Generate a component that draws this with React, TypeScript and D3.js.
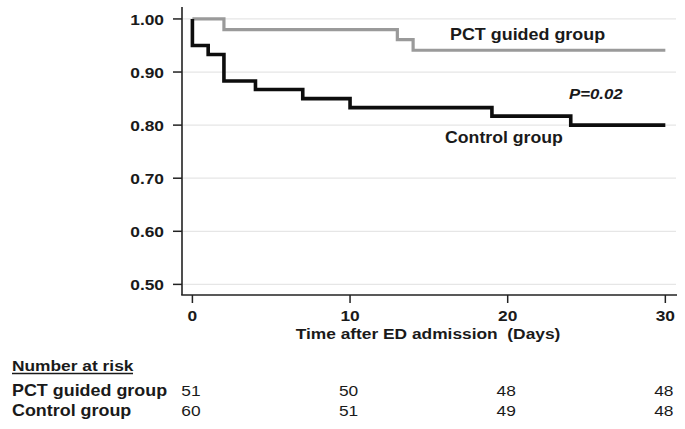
import React from "react";
import * as d3 from "d3";

const pctTimes = [0, 2, 13, 14, 30];
const pctSurv = [1.0, 0.98, 0.961, 0.941, 0.941];
const ctrlTimes = [0, 0, 1, 2, 4, 7, 10, 19, 24, 30];
const ctrlSurv = [1.0, 0.95, 0.933, 0.883, 0.867, 0.85, 0.833, 0.817, 0.8, 0.8];
const yTicks = [0.5, 0.6, 0.7, 0.8, 0.9, 1.0];
const xTicks = [0, 10, 20, 30];
const riskTimes = [0, 10, 20, 30];
const riskPct = [51, 50, 48, 48];
const riskCtrl = [60, 51, 49, 48];

const W = 685;
const H = 429;
const SX = 1.12;
const FONT = "'Liberation Sans', Arial, sans-serif";
const INK = "#1a1a1a";

function T({ x, y, size = 15.5, weight = "bold", anchor = "start", italic = false, children }: any) {
  return (
    <text
      transform={`translate(${x},${y}) scale(${SX},1)`}
      fontFamily={FONT}
      fontSize={size}
      fontWeight={weight}
      fontStyle={italic ? "italic" : "normal"}
      textAnchor={anchor}
      fill={INK}
      style={{ whiteSpace: "pre" }}
    >
      {children}
    </text>
  );
}

export default function App() {
  const x = d3.scaleLinear().domain([-0.66, 30.74]).range([182, 677]);
  const y = d3.scaleLinear().domain([0.48, 1.0225]).range([295, 7]);
  const line = d3
    .line<[number, number]>()
    .x((d) => x(d[0]))
    .y((d) => y(d[1]))
    .curve(d3.curveStepAfter);
  const pctData = pctTimes.map((t, i) => [t, pctSurv[i]] as [number, number]);
  const ctrlData = ctrlTimes.map((t, i) => [t, ctrlSurv[i]] as [number, number]);

  return (
    <svg width={W} height={H} style={{ position: "absolute", left: 0, top: 0, background: "#fff" }}>
      {/* gridlines */}
      {yTicks.map((v) => (
        <line key={"g" + v} x1={183} x2={676} y1={y(v)} y2={y(v)} stroke="#e6e6e6" strokeWidth={1.2} />
      ))}
      {/* axes */}
      <line x1={182} x2={182} y1={7} y2={295} stroke="#222" strokeWidth={1.6} />
      <line x1={181.2} x2={677} y1={295} y2={295} stroke="#222" strokeWidth={1.6} />
      {yTicks.map((v) => (
        <g key={"y" + v}>
          <line x1={173} x2={182} y1={y(v)} y2={y(v)} stroke="#222" strokeWidth={1.5} />
          <T x={164} y={y(v) + 5.7} anchor="end">
            {d3.format(".2f")(v)}
          </T>
        </g>
      ))}
      {xTicks.map((v) => (
        <g key={"x" + v}>
          <line x1={x(v)} x2={x(v)} y1={295} y2={303} stroke="#222" strokeWidth={1.5} />
          <T x={x(v)} y={321} anchor="middle">
            {String(v)}
          </T>
        </g>
      ))}
      <T x={428} y={339} anchor="middle">
        {"Time after ED admission  (Days)"}
      </T>
      {/* curves */}
      <path d={line(pctData) || ""} fill="none" stroke="#9a9a9a" strokeWidth={3.2} />
      <path d={line(ctrlData) || ""} fill="none" stroke="#0d0d0d" strokeWidth={3.6} />
      {/* labels */}
      <T x={450} y={40} size={16}>
        PCT guided group
      </T>
      <T x={445} y={143} size={15.8}>
        Control group
      </T>
      <T x={569} y={99} size={15} italic>
        P=0.02
      </T>
      {/* risk table */}
      <T x={12} y={371}>
        Number at risk
      </T>
      <line x1={12} x2={133} y1={373.5} y2={373.5} stroke={INK} strokeWidth={1.6} />
      <T x={12} y={396} size={16}>
        PCT guided group
      </T>
      <T x={12} y={415.5} size={16}>
        Control group
      </T>
      {riskTimes.map((t, i) => (
        <g key={"r" + t}>
          <T x={x(t) - 1.5} y={396} weight="normal" anchor="middle">
            {String(riskPct[i])}
          </T>
          <T x={x(t) - 1.5} y={415.5} weight="normal" anchor="middle">
            {String(riskCtrl[i])}
          </T>
        </g>
      ))}
    </svg>
  );
}
